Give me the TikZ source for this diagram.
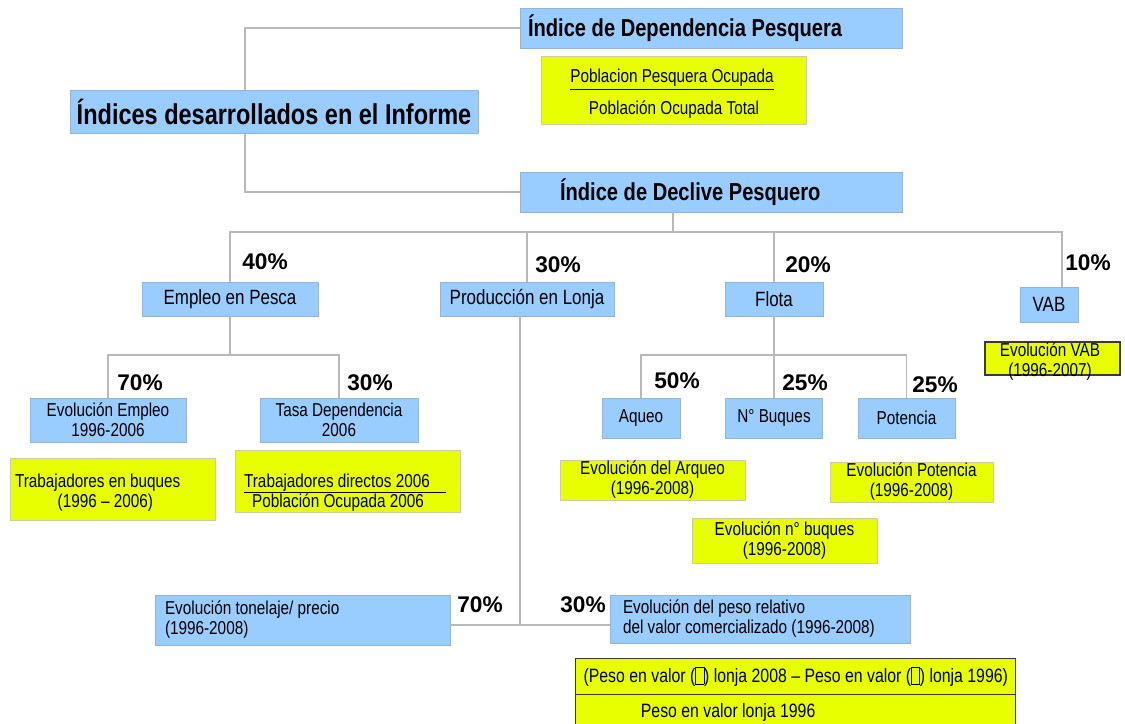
\documentclass[tikz,border=0pt]{standalone}
\usepackage{fontspec}
\setmainfont{Liberation Sans}
\newfontfamily\narrowfont[FakeStretch=0.82]{Liberation Sans}
\usetikzlibrary{positioning,shapes.multipart}

\definecolor{boxblue}{RGB}{153,204,255}
\definecolor{boxyellow}{RGB}{232,255,0}
\definecolor{blueedge}{RGB}{150,180,215}
\definecolor{yellowedge}{RGB}{205,205,160}
\definecolor{darkedge}{RGB}{60,60,40}
\definecolor{linegray}{RGB}{185,185,185}

\newcommand{\tofubox}{\raisebox{-0.15ex}{\fboxsep=0pt\fboxrule=0.35pt\fbox{\rule{0pt}{1.6ex}\hspace{0.4em}}}}

\tikzset{
  px/.style 2 args={minimum width=#1*0.75pt, minimum height=#2*0.75pt},
  bluebox/.style={draw=blueedge, fill=boxblue, inner sep=0pt, align=center,
    font=\narrowfont\fontsize{14}{15}\selectfont},
  bigblue/.style={bluebox, font=\narrowfont\fontsize{15.5}{16}\selectfont},
  headbox/.style={bluebox, font=\narrowfont\bfseries\fontsize{18.4}{20}\selectfont},
  yellowbox/.style={draw=yellowedge, fill=boxyellow, inner sep=0pt, align=center,
    font=\narrowfont\fontsize{14}{15}\selectfont},
  boxtext/.style={inner sep=0pt, align=center, font=\narrowfont\fontsize{14}{15}\selectfont},
  pct/.style={inner sep=0pt, font=\bfseries\fontsize{17}{17}\selectfont},
  conn/.style={draw=linegray, line width=0.8pt},
  fracbar/.style={draw=black, line width=0.7pt},
}

\begin{document}
\begin{tikzpicture}[x=0.75pt,y=-0.75pt]
  \clip (0,0) rectangle (1125,724);
  \fill[white] (0,0) rectangle (1125,724);

  % top level
  \node[headbox, px={408}{43}, font=\narrowfont\bfseries\fontsize{21.5}{22}\selectfont] (informe) at (274,111.5) {Índices desarrollados en el Informe};
  \node[headbox, px={382}{40}, inner xsep=6pt, text width=274.5pt, align=flush left] (dep) at (711,28) {Índice de Dependencia Pesquera};
  \node[headbox, px={382}{40}, inner xsep=30pt, text width=226.5pt, align=flush left] (decl) at (711,192) {Índice de Declive Pesquero};
  \coordinate (spine) at (245,111.5);
  \draw[conn] (dep.west) -| (informe.north -| spine);
  \draw[conn] (decl.west) -| (informe.south -| spine);

  % dependencia
  \node[yellowbox, px={265}{68}] (depY) at (673.5,90) {};
  \node[boxtext] (depNum) at (672,78) {Poblacion Pesquera Ocupada};
  \node[boxtext] (depDen) at (674,110) {Población Ocupada Total};
  \draw[fracbar] ([yshift=-2pt]depNum.south west) -- ([yshift=-2pt]depNum.south east);

  % declive
  \node[bigblue, px={176}{34}] (emp) at (230,299) {Empleo en Pesca};
  \node[bigblue, px={174}{34}] (prod) at (527,299) {Producción en Lonja};
  \node[bigblue, px={98}{34}] (flota) at (774,299) {Flota};
  \node[bigblue, px={58}{35}] (vab) at (1049,304.5) {VAB};
  \coordinate (declHub) at (673,232);
  \coordinate (vabTap) at (1062,0);
  \draw[conn] (decl.south -| declHub) -- (declHub);
  \draw[conn] (emp.north) |- (vabTap |- declHub) -- (vab.north -| vabTap);
  \draw[conn] (prod.north) -- (prod.north |- declHub);
  \draw[conn] (flota.north) -- (flota.north |- declHub);
  \node[pct] (p40) at (265,262) {40\%};
  \node[pct] (p30a) at (558,265) {30\%};
  \node[pct] (p20) at (808,265) {20\%};
  \node[pct] (p10) at (1088,263) {10\%};

  % empleo
  \node[bluebox, px={156}{44}] (evemp) at (108,420) {Evolución Empleo\\1996-2006};
  \node[bluebox, px={158}{44}] (tasa) at (339,420) {Tasa Dependencia\\2006};
  \coordinate (empHub) at (230,355);
  \draw[conn] (emp.south) -- (empHub);
  \draw[conn] (evemp.north) |- (empHub) -| (tasa.north);
  \node[pct] (p70a) at (140,383) {70\%};
  \node[pct] (p30b) at (370,383) {30\%};
  \node[yellowbox, px={205}{62}, inner xsep=3.75pt, text width=146.25pt, align=flush left, text height=16pt] (trabY) at (112.5,489) {Trabajadores en buques\\\hspace*{32pt}(1996 – 2006)};
  \node[yellowbox, px={225}{62}] (dirY) at (347.5,481) {};
  \node[boxtext] (dirNum) at (337,483) {Trabajadores directos 2006};
  \node[boxtext] (dirDen) at (338,503) {Población Ocupada 2006};
  \draw[fracbar, line width=0.5pt] (dirNum.south west) -- ([xshift=12pt]dirNum.south east);

  % produccion
  \coordinate (prodHub) at (520,625);
  \node[bluebox, px={295}{50}, inner xsep=7.5pt, text width=206.25pt, align=flush left] (ton) at (302.5,620) {Evolución tonelaje/ precio\\(1996-2008)};
  \node[bluebox, px={300}{48}, inner xsep=9.75pt, text width=205.5pt, align=flush left] (peso) at (760,619) {Evolución del peso relativo\\\mbox{del valor comercializado (1996-2008)}};
  \draw[conn] (prod.south -| prodHub) -- (prodHub);
  \draw[conn] (ton.east |- prodHub) -- (peso.west |- prodHub);
  \node[pct] (p70b) at (480,605) {70\%};
  \node[pct] (p30c) at (583,605) {30\%};
  \node[rectangle split, rectangle split parts=2, draw=darkedge, line width=0.8pt, fill=boxyellow,
    anchor=north west, inner xsep=6pt, inner ysep=6pt, text width=318pt, align=flush left,
    font=\narrowfont\fontsize{14.5}{15}\selectfont] (formula) at (575,658)
    {\mbox{(Peso en valor (\tofubox) lonja 2008 – Peso en valor (\tofubox) lonja 1996)}\nodepart{two}\hspace*{43pt}Peso en valor lonja 1996};

  % flota
  \node[bluebox, px={78}{40}] (aqueo) at (641,418) {Aqueo};
  \node[bluebox, px={97}{40}] (buq) at (774,418) {N° Buques};
  \node[bluebox, px={97}{40}] (pot) at (906.5,418) {Potencia};
  \coordinate (flotaHub) at (774,355);
  \draw[conn] (flota.south) -- (buq.north);
  \draw[conn] (aqueo.north) |- (flotaHub) -| (pot.north);
  \node[pct] (p50) at (677,381) {50\%};
  \node[pct] (p25a) at (805,383) {25\%};
  \node[pct] (p25b) at (935,385) {25\%};
  \node[yellowbox, px={185}{40}] (arqY) at (652.5,480) {Evolución del Arqueo\\(1996-2008)};
  \node[yellowbox, px={163}{40}] (potY) at (911.5,482) {Evolución Potencia\\(1996-2008)};
  \node[yellowbox, px={185}{45}] (buqY) at (784.5,540.5) {Evolución n° buques\\(1996-2008)};

  % vab
  \node[yellowbox, draw=darkedge, line width=0.8pt, px={135}{33}] (vabY) at (1052.5,358.5) {};
  \node[boxtext] (vabT) at (1050,362) {Evolución VAB\\(1996-2007)};
\end{tikzpicture}
\end{document}
